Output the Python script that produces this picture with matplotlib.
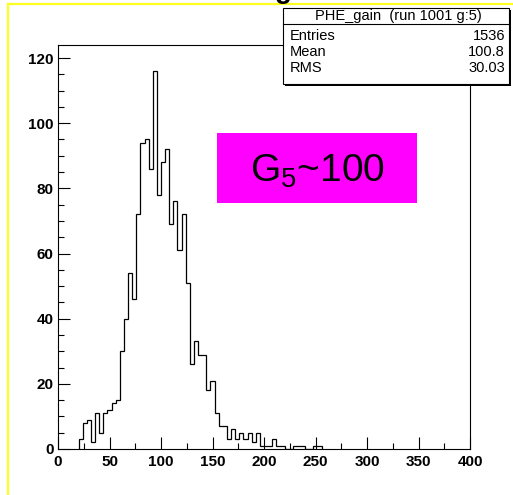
import numpy as np
import matplotlib
matplotlib.use("Agg")
import matplotlib.pyplot as plt
import matplotlib.ticker as ticker
from matplotlib.patches import Rectangle
from matplotlib.lines import Line2D

plt.rcParams["font.family"] = ["Liberation Sans", "DejaVu Sans"]
plt.rcParams["mathtext.default"] = "regular"

# histogram contents, 4-unit bins starting at 20
first_edge = 20
bin_width = 4
counts = [3, 8, 9, 2, 11, 5, 11, 12, 14, 15,
          30, 40, 54, 46, 72, 94, 95, 86, 116, 78,
          88, 92, 69, 76, 61, 72, 51, 26, 33, 29,
          29, 18, 21, 11, 7, 7, 3, 6, 3, 5,
          3, 5, 2, 5, 1, 1, 1, 3, 1, 1,
          0, 0, 1, 1, 1, 0, 0, 1, 1]

stats_title = "PHE_gain  (run 1001 g:5)"
stats_names = ["Entries", "Mean", "RMS"]
stats_values = ["1536", "100.8", "30.03"]
label_text = "G$_5$~100"

W, H = 513, 495


def fx(px):
    return px / W


def fy(py):
    return 1 - py / H


fig = plt.figure(figsize=(W / 100, H / 100), dpi=100)
fig.patch.set_facecolor("white")

# axes frame: x 0..400 -> px 58..470, y 0..124 -> py 449..45
ax = fig.add_axes([fx(58), fy(449), fx(470) - fx(58), fy(45) - fy(449)])
edges = first_edge + bin_width * np.arange(len(counts) + 1)
ax.stairs(counts, edges, color="black", linewidth=0.9, baseline=0)

ax.set_xlim(0, 400)
ax.set_ylim(0, 124)
ax.xaxis.set_major_locator(ticker.MultipleLocator(50))
ax.xaxis.set_minor_locator(ticker.MultipleLocator(25))
ax.yaxis.set_major_locator(ticker.MultipleLocator(20))
ax.yaxis.set_minor_locator(ticker.MultipleLocator(5))
ax.tick_params(which="both", direction="in", width=0.8, top=False, right=False)
ax.tick_params(which="major", length=8.5)
ax.tick_params(which="minor", length=4.5)
ax.tick_params(axis="x", which="major", pad=4, labelsize=11)
ax.tick_params(axis="y", which="major", pad=3, labelsize=11)
for lab in ax.get_xticklabels() + ax.get_yticklabels():
    lab.set_fontweight("bold")
for sp in ax.spines.values():
    sp.set_linewidth(0.8)

# yellow canvas border (partially outside the picture)
fig.add_artist(Line2D([fx(8), fx(8)], [fy(4), fy(H)], color="#ffff22", linewidth=1.6))
fig.add_artist(Line2D([fx(8), fx(W)], [fy(4), fy(4)], color="#ffff22", linewidth=1.6))

# cut-off canvas title glyph at the very top
fig.text(fx(283), fy(-2), "g", fontsize=20, fontweight="bold", ha="center",
         va="baseline")

# stats box with shadow
bx0, by0, bx1, by1 = 283, 8, 509, 84
fig.add_artist(Rectangle((fx(bx0 + 2), fy(by1 + 2)), fx(bx1 - bx0), fy(by0) - fy(by1),
                         transform=fig.transFigure, facecolor="black",
                         edgecolor="none", zorder=5))
fig.add_artist(Rectangle((fx(bx0), fy(by1)), fx(bx1 - bx0), fy(by0) - fy(by1),
                         transform=fig.transFigure, facecolor="white",
                         edgecolor="black", linewidth=0.8, zorder=6))
fig.add_artist(Line2D([fx(bx0), fx(bx1)], [fy(24), fy(24)], color="black",
                      linewidth=0.8, zorder=7))
fig.text(fx((bx0 + bx1) / 2 + 2), fy(16), stats_title, fontsize=10.5, ha="center",
         va="center", zorder=8)
for i, (name, val) in enumerate(zip(stats_names, stats_values)):
    yy = fy(36.5 + 16 * i)
    fig.text(fx(290), yy, name, fontsize=10.5, ha="left", va="center", zorder=8)
    fig.text(fx(505), yy, val, fontsize=10.5, ha="right", va="center", zorder=8)

# magenta label box
fig.add_artist(Rectangle((fx(217), fy(203)), fx(417 - 217), fy(133) - fy(203),
                         transform=fig.transFigure, facecolor="#ff00ff",
                         edgecolor="none", zorder=5))
fig.text(fx(317), fy(181.5), label_text, fontsize=28, ha="center",
         va="baseline", zorder=6)

fig.savefig("out.png", dpi=100)
